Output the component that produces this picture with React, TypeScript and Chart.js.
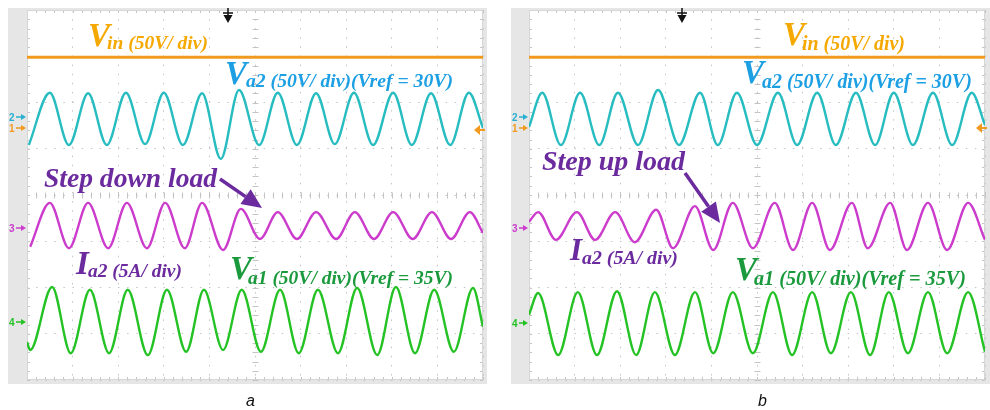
import React, { useEffect, useRef } from "react";
import { Chart, registerables } from "chart.js";

Chart.register(...registerables);

// ---------- DATA (time in divisions 0..10, amplitude in divisions -4..4) ----------
// Panel a
const aVinT = [0, 10];
const aVinV = [2.98, 2.98];

const aVa2T = [0.04, 0.5, 0.92, 1.34, 1.75, 2.17, 2.59, 3.0, 3.42, 3.84, 4.25, 4.65, 5.09, 5.5, 5.92, 6.34, 6.75, 7.17, 7.59, 8.03, 8.44, 8.86, 9.28, 9.69, 10.0];
const aVa2V = [1.08, 2.21, 1.08, 2.2, 1.08, 2.21, 1.1, 2.21, 1.08, 2.2, 0.78, 2.27, 1.08, 2.21, 1.08, 2.2, 1.1, 2.21, 1.08, 2.21, 1.08, 2.2, 1.08, 2.21, 1.45];

const aIa2T = [0.07, 0.5, 0.92, 1.34, 1.78, 2.19, 2.63, 3.03, 3.46, 3.84, 4.3, 4.69, 5.11, 5.5, 5.92, 6.34, 6.78, 7.19, 7.61, 8.03, 8.46, 8.88, 9.3, 9.71, 10.0];
const aIa2V = [-1.12, -0.17, -1.15, -0.17, -1.15, -0.17, -1.15, -0.17, -1.15, -0.17, -1.19, -0.3, -0.95, -0.37, -0.95, -0.37, -0.95, -0.37, -0.95, -0.37, -0.95, -0.37, -0.95, -0.37, -0.82];

const aVa1T = [0.0, 0.07, 0.55, 0.96, 1.38, 1.8, 2.21, 2.65, 3.07, 3.49, 3.88, 4.3, 4.71, 5.13, 5.55, 5.96, 6.38, 6.82, 7.24, 7.68, 8.09, 8.51, 8.93, 9.36, 9.78, 10.0];
const aVa1V = [-3.18, -3.35, -1.99, -3.42, -2.05, -3.42, -2.05, -3.46, -2.05, -3.39, -2.05, -3.35, -2.05, -3.39, -2.05, -3.42, -2.05, -3.42, -2.01, -3.46, -1.99, -3.42, -2.05, -3.39, -2.01, -2.85];

// Panel b
const bVinT = [0, 10];
const bVinV = [2.98, 2.98];

const bVa2T = [0.0, 0.29, 0.7, 1.12, 1.54, 1.95, 2.39, 2.83, 3.29, 3.75, 4.14, 4.56, 5.0, 5.46, 5.88, 6.32, 6.73, 7.17, 7.59, 8.0, 8.42, 8.86, 9.28, 9.71, 10.0];
const bVa2V = [1.47, 2.21, 1.08, 2.21, 1.08, 2.21, 1.08, 2.27, 1.08, 2.21, 1.08, 2.21, 1.08, 2.21, 1.08, 2.21, 1.08, 2.21, 1.08, 2.21, 1.08, 2.21, 1.08, 2.21, 1.51];

const bIa2T = [0.0, 0.2, 0.59, 1.05, 1.45, 1.89, 2.32, 2.79, 3.16, 3.64, 4.04, 4.47, 4.91, 5.39, 5.79, 6.21, 6.6, 7.08, 7.43, 7.92, 8.29, 8.75, 9.17, 9.63, 10.0];
const bIa2V = [-0.58, -0.37, -0.97, -0.37, -0.97, -0.37, -1.02, -0.32, -1.15, -0.24, -1.19, -0.17, -1.15, -0.17, -1.19, -0.17, -1.19, -0.17, -1.15, -0.17, -1.19, -0.17, -1.19, -0.17, -0.97];

const bVa1T = [0.0, 0.2, 0.64, 1.07, 1.49, 1.93, 2.35, 2.76, 3.2, 3.64, 4.04, 4.47, 4.91, 5.35, 5.77, 6.21, 6.62, 7.06, 7.48, 7.89, 8.31, 8.75, 9.17, 9.63, 10.0];
const bVa1V = [-2.59, -2.12, -3.46, -2.1, -3.46, -2.08, -3.46, -2.1, -3.46, -2.1, -3.42, -2.1, -3.42, -2.1, -3.46, -2.1, -3.42, -2.1, -3.46, -2.1, -3.42, -2.1, -3.42, -2.1, -3.39];

// ---------- STYLE ----------
const C = {
  orangeTrace: "#f29a1f",
  cyanTrace: "#27bcc0",
  magentaTrace: "#cc3ccc",
  greenTrace: "#24c224",
  vinLabel: "#f5a800",
  va2Label: "#1d9fe3",
  purple: "#6b2a9e",
  va1Label: "#1a9a3c",
  marker2: "#29b0d0",
};

type Lbl = { main: string; sub: string; x: number; y: number; size: number; sx: number; sy: number; sw: number; color: string };
type Spec = {
  name: string;
  offset: number;
  width: number;
  frame: { x0: number; y0: number; x1: number; y1: number };
  plot: { l: number; t: number; r: number; b: number };
  trigX: number;
  rightArrow: { x: number; y: number };
  markerX: number;
  markers: { n: string; y: number; c: string }[];
  labels: Lbl[];
  note: { text: string; x: number; y: number; w: number };
  arrow: { x1: number; y1: number; x2: number; y2: number };
  caption: { text: string; x: number; y: number };
  traces: { t: number[]; v: number[]; color: string; width: number }[];
};

const SERIF = '"Liberation Serif", "Times New Roman", serif';

const specA: Spec = {
  name: "a",
  offset: 0,
  width: 495,
  frame: { x0: 8, y0: 8, x1: 487, y1: 384 },
  plot: { l: 27, t: 10, r: 483, b: 380 },
  trigX: 228,
  rightArrow: { x: 483, y: 130 },
  markerX: 9,
  markers: [
    { n: "2", y: 117, c: C.marker2 },
    { n: "1", y: 128, c: C.orangeTrace },
    { n: "3", y: 228, c: C.magentaTrace },
    { n: "4", y: 322, c: C.greenTrace },
  ],
  labels: [
    { main: "V", sub: "in (50V/ div)", x: 88, y: 46, size: 33, sx: 107, sy: 49, sw: 101, color: C.vinLabel },
    { main: "V", sub: "a2 (50V/ div)(Vref = 30V)", x: 225, y: 84, size: 33, sx: 246, sy: 87, sw: 207, color: C.va2Label },
    { main: "I", sub: "a2 (5A/ div)", x: 76, y: 274, size: 33, sx: 88, sy: 277, sw: 94, color: C.purple },
    { main: "V", sub: "a1 (50V/ div)(Vref = 35V)", x: 230, y: 279, size: 33, sx: 248, sy: 284, sw: 205, color: C.va1Label },
  ],
  note: { text: "Step down load", x: 44, y: 187, w: 173 },
  arrow: { x1: 220, y1: 179, x2: 262, y2: 208 },
  caption: { text: "a", x: 246, y: 393 },
  traces: [
    { t: aVinT, v: aVinV, color: C.orangeTrace, width: 3 },
    { t: aVa2T, v: aVa2V, color: C.cyanTrace, width: 2.4 },
    { t: aIa2T, v: aIa2V, color: C.magentaTrace, width: 2.4 },
    { t: aVa1T, v: aVa1V, color: C.greenTrace, width: 2.4 },
  ],
};

const specB: Spec = {
  name: "b",
  offset: 495,
  width: 495,
  frame: { x0: 511, y0: 8, x1: 990, y1: 384 },
  plot: { l: 529, t: 10, r: 985, b: 380 },
  trigX: 682,
  rightArrow: { x: 985, y: 128 },
  markerX: 512,
  markers: [
    { n: "2", y: 117, c: C.marker2 },
    { n: "1", y: 128, c: C.orangeTrace },
    { n: "3", y: 228, c: C.magentaTrace },
    { n: "4", y: 323, c: C.greenTrace },
  ],
  labels: [
    { main: "V", sub: "in (50V/ div)", x: 783, y: 45, size: 33, sx: 802, sy: 50, sw: 103, color: C.vinLabel },
    { main: "V", sub: "a2 (50V/ div)(Vref = 30V)", x: 742, y: 83, size: 33, sx: 762, sy: 88, sw: 210, color: C.va2Label },
    { main: "I", sub: "a2 (5A/ div)", x: 570, y: 260, size: 31, sx: 582, sy: 264, sw: 96, color: C.purple },
    { main: "V", sub: "a1 (50V/ div)(Vref = 35V)", x: 735, y: 280, size: 33, sx: 754, sy: 285, sw: 212, color: C.va1Label },
  ],
  note: { text: "Step up load", x: 542, y: 170, w: 143 },
  arrow: { x1: 685, y1: 173, x2: 720, y2: 223 },
  caption: { text: "b", x: 758, y: 393 },
  traces: [
    { t: bVinT, v: bVinV, color: C.orangeTrace, width: 3 },
    { t: bVa2T, v: bVa2V, color: C.cyanTrace, width: 2.4 },
    { t: bIa2T, v: bIa2V, color: C.magentaTrace, width: 2.4 },
    { t: bVa1T, v: bVa1V, color: C.greenTrace, width: 2.4 },
  ],
};

function fitFont(ctx: CanvasRenderingContext2D, text: string, width: number) {
  ctx.font = `italic bold 20px ${SERIF}`;
  const w = ctx.measureText(text).width || 1;
  const size = (20 * width) / w;
  ctx.font = `italic bold ${size.toFixed(2)}px ${SERIF}`;
}

function drawArrow(ctx: CanvasRenderingContext2D, x1: number, y1: number, x2: number, y2: number, color: string) {
  const ang = Math.atan2(y2 - y1, x2 - x1);
  const head = 20;
  const hw = 9;
  const bx = x2 - head * Math.cos(ang);
  const by = y2 - head * Math.sin(ang);
  ctx.strokeStyle = color;
  ctx.lineWidth = 3.5;
  ctx.beginPath();
  ctx.moveTo(x1, y1);
  ctx.lineTo(bx, by);
  ctx.stroke();
  ctx.fillStyle = color;
  ctx.beginPath();
  ctx.moveTo(x2, y2);
  ctx.lineTo(bx + hw * Math.sin(ang), by - hw * Math.cos(ang));
  ctx.lineTo(bx - hw * Math.sin(ang), by + hw * Math.cos(ang));
  ctx.closePath();
  ctx.fill();
}

function makePlugin(p: Spec) {
  const o = p.offset;
  return {
    id: "scope_" + p.name,
    beforeDraw(chart: any) {
      const ctx: CanvasRenderingContext2D = chart.ctx;
      const a = chart.chartArea;
      ctx.save();
      ctx.fillStyle = "#ffffff";
      ctx.fillRect(0, 0, chart.width, chart.height);
      ctx.fillStyle = "#e6e6e6";
      ctx.fillRect(p.frame.x0 - o, p.frame.y0, p.frame.x1 - p.frame.x0, p.frame.y1 - p.frame.y0);
      ctx.fillStyle = "#ffffff";
      ctx.fillRect(a.left, a.top, a.right - a.left, a.bottom - a.top);
      ctx.restore();
    },
    beforeDatasetsDraw(chart: any) {
      const ctx: CanvasRenderingContext2D = chart.ctx;
      const xs = chart.scales.x;
      const ys = chart.scales.y;
      const a = chart.chartArea;
      const cx = Math.round(xs.getPixelForValue(5)) + 0.5;
      const cy = Math.round(ys.getPixelForValue(0)) + 0.5;
      ctx.save();
      ctx.strokeStyle = "#c4c4c4";
      ctx.lineWidth = 1;
      ctx.beginPath();
      for (let i = 0; i <= 50; i++) {
        const x = Math.round(xs.getPixelForValue(i / 5)) + 0.5;
        ctx.moveTo(x, cy - 3);
        ctx.lineTo(x, cy + 3);
        ctx.moveTo(x, a.top);
        ctx.lineTo(x, a.top + 3);
        ctx.moveTo(x, a.bottom);
        ctx.lineTo(x, a.bottom - 3);
      }
      for (let j = 0; j <= 40; j++) {
        const y = Math.round(ys.getPixelForValue(-4 + j / 5)) + 0.5;
        ctx.moveTo(cx - 3, y);
        ctx.lineTo(cx + 3, y);
        ctx.moveTo(a.left, y);
        ctx.lineTo(a.left + 3, y);
        ctx.moveTo(a.right, y);
        ctx.lineTo(a.right - 3, y);
      }
      ctx.stroke();
      ctx.strokeStyle = "#d6d6d6";
      ctx.strokeRect(a.left + 0.5, a.top + 0.5, a.right - a.left - 1, a.bottom - a.top - 1);
      ctx.restore();
    },
    afterDraw(chart: any) {
      const ctx: CanvasRenderingContext2D = chart.ctx;
      const a = chart.chartArea;
      ctx.save();
      ctx.textAlign = "left";
      ctx.textBaseline = "alphabetic";

      // channel markers on the left strip
      for (const m of p.markers) {
        ctx.fillStyle = m.c;
        ctx.strokeStyle = m.c;
        ctx.font = 'bold 10px "Liberation Sans", Arial, sans-serif';
        ctx.fillText(m.n, p.markerX - o, m.y + 4);
        const x0 = p.markerX - o + 7;
        const tip = a.left - 1;
        ctx.lineWidth = 1.5;
        ctx.beginPath();
        ctx.moveTo(x0, m.y);
        ctx.lineTo(tip - 4, m.y);
        ctx.stroke();
        ctx.beginPath();
        ctx.moveTo(tip, m.y);
        ctx.lineTo(tip - 5, m.y - 3);
        ctx.lineTo(tip - 5, m.y + 3);
        ctx.closePath();
        ctx.fill();
      }

      // right-side level marker (channel 1)
      {
        const rx = p.rightArrow.x - o;
        const ry = p.rightArrow.y;
        ctx.fillStyle = C.orangeTrace;
        ctx.strokeStyle = C.orangeTrace;
        ctx.lineWidth = 2;
        ctx.beginPath();
        ctx.moveTo(rx - 9, ry);
        ctx.lineTo(rx - 3, ry - 5);
        ctx.lineTo(rx - 3, ry + 5);
        ctx.closePath();
        ctx.fill();
        ctx.beginPath();
        ctx.moveTo(rx - 4, ry);
        ctx.lineTo(rx + 2, ry);
        ctx.stroke();
      }

      // trigger position marker
      {
        const tx = p.trigX - o;
        ctx.strokeStyle = "#111";
        ctx.fillStyle = "#111";
        ctx.lineWidth = 1.5;
        ctx.beginPath();
        ctx.moveTo(tx, 8);
        ctx.lineTo(tx, 17);
        ctx.moveTo(tx - 5, 13);
        ctx.lineTo(tx + 5, 13);
        ctx.stroke();
        ctx.beginPath();
        ctx.moveTo(tx - 4.5, 15);
        ctx.lineTo(tx + 4.5, 15);
        ctx.lineTo(tx, 23);
        ctx.closePath();
        ctx.fill();
      }

      // trace labels
      for (const l of p.labels) {
        ctx.fillStyle = l.color;
        ctx.font = `italic bold ${l.size}px ${SERIF}`;
        ctx.fillText(l.main, l.x - o, l.y);
        fitFont(ctx, l.sub, l.sw);
        ctx.fillText(l.sub, l.sx - o, l.sy);
      }

      // step load annotation
      ctx.fillStyle = C.purple;
      fitFont(ctx, p.note.text, p.note.w);
      ctx.fillText(p.note.text, p.note.x - o, p.note.y);
      drawArrow(ctx, p.arrow.x1 - o, p.arrow.y1, p.arrow.x2 - o, p.arrow.y2, C.purple);

      ctx.restore();
    },
  };
}

function ScopePanel({ spec }: { spec: Spec }) {
  const ref = useRef<HTMLCanvasElement>(null);
  useEffect(() => {
    const canvas = ref.current!;
    const gridOpts = { color: "#c4c4c4", lineWidth: 1, drawTicks: false };
    const borderOpts = { display: false, dash: [1.5, 7.6] };
    const chart = new Chart(canvas, {
      type: "line",
      data: {
        datasets: spec.traces.map((tr) => ({
          data: tr.t.map((x, i) => ({ x, y: tr.v[i] })),
          borderColor: tr.color,
          borderWidth: tr.width,
          pointRadius: 0,
          fill: false,
          cubicInterpolationMode: "monotone" as const,
        })),
      },
      options: {
        responsive: false,
        animation: false,
        events: [],
        layout: {
          padding: {
            left: spec.plot.l - spec.offset,
            right: spec.offset + spec.width - spec.plot.r,
            top: spec.plot.t,
            bottom: 410 - spec.plot.b,
          },
        },
        plugins: {
          legend: { display: false },
          tooltip: { enabled: false },
          title: { display: false },
        },
        scales: {
          x: {
            type: "linear",
            min: 0,
            max: 10,
            ticks: { display: false, stepSize: 1 },
            grid: gridOpts,
            border: borderOpts,
          },
          y: {
            type: "linear",
            min: -4,
            max: 4,
            ticks: { display: false, stepSize: 1 },
            grid: gridOpts,
            border: borderOpts,
          },
        },
      },
      plugins: [makePlugin(spec)],
    } as any);
    return () => chart.destroy();
  }, [spec]);
  return (
    <canvas
      ref={ref}
      width={spec.width}
      height={410}
      style={{ position: "absolute", left: spec.offset, top: 0, width: spec.width, height: 410 }}
    />
  );
}

export default function App() {
  return (
    <div style={{ position: "absolute", left: 0, top: 0, width: 990, height: 410, overflow: "hidden", background: "#fff" }}>
      <ScopePanel spec={specA} />
      <ScopePanel spec={specB} />
      {[specA, specB].map((s) => (
        <div
          key={s.name}
          style={{
            position: "absolute",
            left: s.caption.x,
            top: s.caption.y,
            font: 'italic 16px "Liberation Sans", Arial, sans-serif',
            lineHeight: "16px",
            color: "#111",
          }}
        >
          {s.caption.text}
        </div>
      ))}
    </div>
  );
}
